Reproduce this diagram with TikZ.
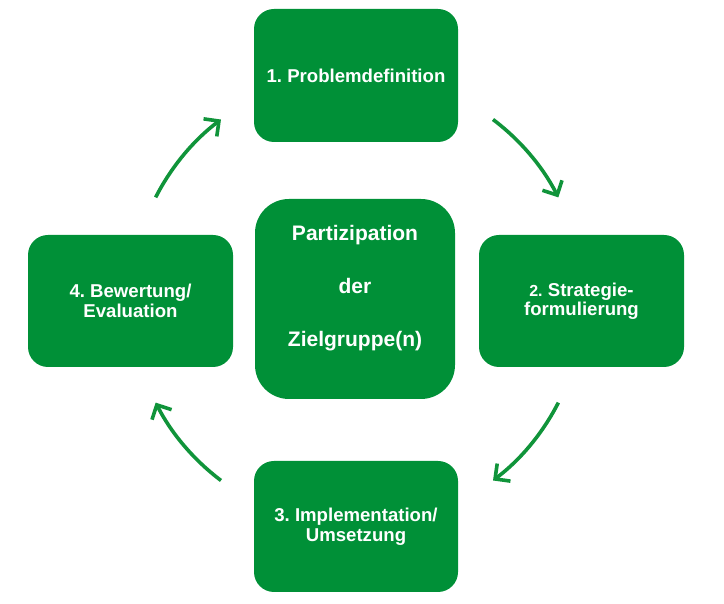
\documentclass[tikz,border=0pt]{standalone}
\usepackage{fontspec}
\setmainfont{Liberation Sans}
\usetikzlibrary{arrows.meta,calc}
\definecolor{boxgreen}{RGB}{0,144,55}
\definecolor{arrgreen}{RGB}{16,148,58}
\tikzset{
  box/.style={fill=boxgreen, rounded corners=20pt, minimum width=205pt, minimum height=132pt,
    text=white, font=\bfseries\fontsize{18.6}{19.5}\selectfont, align=center, inner sep=0pt},
  centerbox/.style={fill=boxgreen, rounded corners=34pt, minimum width=200pt, minimum height=200pt, inner sep=0pt},
  centertext/.style={text=white, font=\bfseries\fontsize{21}{53}\selectfont, align=center, inner sep=0pt},
  arr/.style={draw=arrgreen, line width=3.6pt, -{Straight Barb[length=11pt,width=22pt]}}
}
\frenchspacing
\begin{document}
\begin{tikzpicture}[x=1pt,y=1pt]
\useasboundingbox (0,0) rectangle (724,604);
\node[box, minimum width=204pt, minimum height=133pt] (prob) at (356,528.5) {1. Problemdefinition};
\node[box] (strat) at (581.5,303) {{\fontsize{16}{19.5}\selectfont 2.} Strategie-\\formulierung};
\node[box, minimum width=204pt, minimum height=131pt] (impl) at (356,77.5) {3. Implementation/\\Umsetzung};
\node[box] (eval) at (130.5,303) {4. Bewertung/\\Evaluation};
\node[centerbox] (center) at (355,305) {};
\node[centertext] (centerlabel) at (355,316) {Partizipation\\der\\Zielgruppe(n)};
\coordinate (ctr) at (357,304);
\coordinate (a1) at ($(ctr)+(153:226)$);
\coordinate (a2) at ($(ctr)+(53:226)$);
\coordinate (a3) at ($(ctr)+(-27:226)$);
\coordinate (a4) at ($(ctr)+(-127:226)$);
\draw[arr] (a1) arc[start angle=153, end angle=127, radius=226pt];
\draw[arr] (a2) arc[start angle=53, end angle=27, radius=226pt];
\draw[arr] (a3) arc[start angle=-27, end angle=-53, radius=226pt];
\draw[arr] (a4) arc[start angle=-127, end angle=-153, radius=226pt];
\end{tikzpicture}
\end{document}
